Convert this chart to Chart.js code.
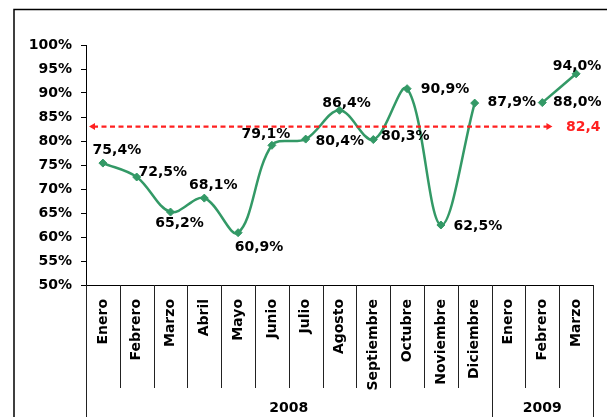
<!DOCTYPE html>
<html>
<head>
<meta charset="utf-8">
<script src="https://cdn.jsdelivr.net/npm/chart.js@4.4.1/dist/chart.umd.min.js"></script>
<style>
  html, body { margin: 0; padding: 0; background: #fff; }
  #wrap { width: 607px; height: 417px; }
</style>
</head>
<body>
<div id="wrap"><canvas id="chart" width="607" height="417"></canvas></div>
<script>
// month labels, two years
const months = ["Enero", "Febrero", "Marzo", "Abril", "Mayo", "Junio", "Julio", "Agosto",
  "Septiembre", "Octubre", "Noviembre", "Diciembre", "Enero", "Febrero", "Marzo"];
const years = ["2008", "2009"];
const yearSpans = [12, 3];
// monthly values in %, Enero 2009 has no value
const values = [75.4, 72.5, 65.2, 68.1, 60.9, 79.1, 80.4, 86.4, 80.3, 90.9, 62.5, 87.9, null, 88.0, 94.0];
// average reference line
const avgLineValue = 83.0;
const avgLabel = "82,4";

// where each value label sits relative to its point (dx, dy)
const labelOffsets = [[14, -13], [26, -5], [9, 11], [9, -13], [21, 15], [-6, -11], [34, 2],
  [7, -7], [32, -3], [38, 1], [37, 1], [37, -1], [0, 0], [35, 0], [1, -7]];

const FONT = "'DejaVu Sans', sans-serif";
const green = "#339966";

Chart.defaults.color = "#000";
Chart.defaults.font.family = FONT;
Chart.defaults.font.size = 14;
Chart.defaults.font.weight = "bold";

const fmt = (v) => v.toFixed(1).replace(".", ",") + "%";

const framePlugin = {
  id: "frame",
  beforeDraw(chart) {
    const ctx = chart.ctx;
    ctx.save();
    ctx.fillStyle = "#fff";
    ctx.fillRect(0, 0, chart.width, chart.height);
    ctx.strokeStyle = "#000";
    ctx.lineWidth = 1.5;
    ctx.strokeRect(14, 9.5, 620, 440);
    ctx.restore();
  },
  afterDraw(chart) {
    const ctx = chart.ctx;
    const area = chart.chartArea;
    const n = months.length;
    const w = (area.right - area.left) / n;
    const bigBreaks = [0];
    let acc = 0;
    yearSpans.forEach((s) => { acc += s; bigBreaks.push(acc); });

    ctx.save();
    ctx.strokeStyle = "#222";
    ctx.lineWidth = 1;
    for (let i = 0; i <= n; i++) {
      const x = Math.round(area.left + i * w) + 0.5;
      const yEnd = bigBreaks.includes(i) ? chart.height : 388;
      ctx.beginPath();
      ctx.moveTo(x, area.bottom);
      ctx.lineTo(x, yEnd);
      ctx.stroke();
    }

    // year row
    ctx.fillStyle = "#000";
    ctx.font = "bold 14px " + FONT;
    ctx.textAlign = "center";
    ctx.textBaseline = "middle";
    let start = 0;
    years.forEach((y, k) => {
      const x0 = area.left + start * w;
      const x1 = area.left + (start + yearSpans[k]) * w;
      ctx.fillText(y, (x0 + x1) / 2, 408);
      start += yearSpans[k];
    });

    // average dashed line with arrows
    const yScale = chart.scales.y;
    const ya = yScale.getPixelForValue(avgLineValue);
    const xa0 = area.left + 3;
    const xa1 = area.left + 13.8 * w;
    ctx.strokeStyle = "#ff2020";
    ctx.fillStyle = "#ff2020";
    ctx.lineWidth = 2.2;
    ctx.setLineDash([5, 3.5]);
    ctx.beginPath();
    ctx.moveTo(xa0 + 4, ya);
    ctx.lineTo(xa1 - 4, ya);
    ctx.stroke();
    ctx.setLineDash([]);
    ctx.beginPath();
    ctx.moveTo(xa0, ya);
    ctx.lineTo(xa0 + 6, ya - 3.5);
    ctx.lineTo(xa0 + 6, ya + 3.5);
    ctx.closePath();
    ctx.fill();
    ctx.beginPath();
    ctx.moveTo(xa1, ya);
    ctx.lineTo(xa1 - 6, ya - 3.5);
    ctx.lineTo(xa1 - 6, ya + 3.5);
    ctx.closePath();
    ctx.fill();
    ctx.textAlign = "left";
    ctx.fillText(avgLabel, 566, ya + 1);
    ctx.restore();
  },
};

const valueLabels = {
  id: "valueLabels",
  afterDatasetsDraw(chart) {
    const ctx = chart.ctx;
    const meta = chart.getDatasetMeta(0);
    ctx.save();
    ctx.fillStyle = "#000";
    ctx.font = "bold 14px " + FONT;
    ctx.textAlign = "center";
    ctx.textBaseline = "middle";
    meta.data.forEach((pt, i) => {
      if (values[i] === null) return;
      const [dx, dy] = labelOffsets[i];
      ctx.fillText(fmt(values[i]), pt.x + dx, pt.y + dy);
    });
    ctx.restore();
  },
};

new Chart(document.getElementById("chart"), {
  type: "line",
  data: {
    labels: months,
    datasets: [{
      data: values,
      borderColor: green,
      backgroundColor: green,
      borderWidth: 2.5,
      tension: 0.35,
      spanGaps: false,
      pointStyle: "rectRot",
      pointRadius: 4,
      pointBorderWidth: 1,
    }],
  },
  options: {
    responsive: false,
    animation: false,
    layout: { padding: { top: 45, right: 14, left: 0, bottom: 0 } },
    plugins: { legend: { display: false }, tooltip: { enabled: false } },
    scales: {
      x: {
        offset: true,
        grid: { display: false },
        border: { display: true, color: "#000", width: 1 },
        ticks: { minRotation: 90, maxRotation: 90, padding: 6, autoSkip: false,
          font: { size: 14, weight: "bold" } },
        afterFit: (scale) => { scale.height = 132; },
      },
      y: {
        min: 50,
        max: 100,
        ticks: { stepSize: 5, padding: 9, callback: (v) => v + "%",
          font: { size: 14, weight: "bold" } },
        grid: { drawOnChartArea: false, tickLength: 5, color: "#000" },
        border: { display: true, color: "#000", width: 1 },
        afterFit: (scale) => { scale.width = 86; },
      },
    },
  },
  plugins: [framePlugin, valueLabels],
});
</script>
</body>
</html>
